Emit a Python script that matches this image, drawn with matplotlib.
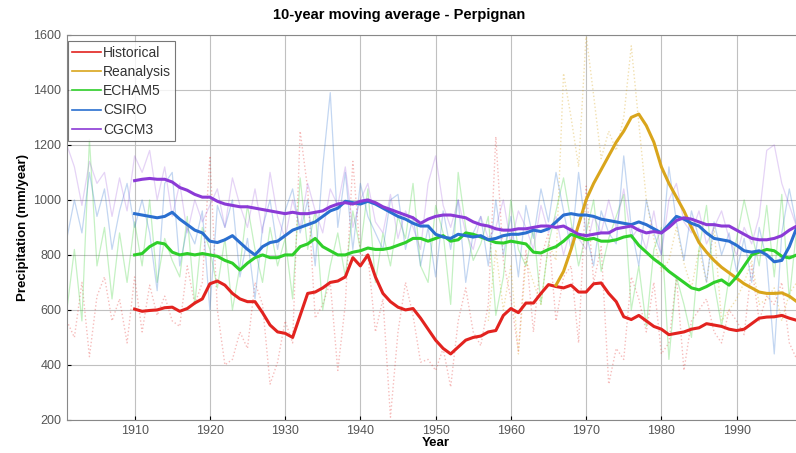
import numpy as np
import matplotlib.pyplot as plt

plt.rcParams['font.family'] = ['Liberation Sans', 'DejaVu Sans']

# annual values 1901-1998 (faint lines)
years = np.arange(1901, 1999)
hist_annual = [560, 500, 700, 430, 650, 720, 560, 640, 480, 720,
               520, 690, 580, 650, 560, 540, 760, 620, 700, 1160,
               600, 400, 420, 520, 460, 700, 620, 330, 410, 560,
               480, 1250, 1040, 570, 620, 700, 380, 620, 1140, 800,
               800, 520, 640, 210, 520, 700, 580, 410, 420, 380,
               460, 320, 560, 680, 520, 470, 620, 1230, 780, 640,
               450, 820, 520, 790, 880, 560, 720, 760, 480, 1050,
               700, 830, 330, 460, 420, 720, 640, 520, 700, 440,
               480, 720, 380, 560, 600, 640, 520, 480, 600, 560,
               510, 760, 560, 650, 620, 700, 480, 420]
echam_annual = [600, 820, 560, 1220, 760, 900, 640, 880, 700, 920,
                760, 1000, 700, 860, 780, 720, 940, 620, 900, 820,
                680, 860, 600, 760, 980, 820, 700, 900, 760, 860,
                640, 1080, 820, 960, 600, 760, 880, 720, 960, 820,
                1040, 700, 880, 760, 940, 860, 1060, 760, 700, 980,
                880, 620, 1100, 900, 780, 840, 940, 580, 720, 1000,
                820, 760, 900, 620, 840, 960, 1080, 920, 760, 880,
                1000, 740, 860, 940, 1020, 600, 760, 540, 820, 900,
                420, 720, 620, 500, 820, 980, 700, 540, 720, 860,
                1000, 880, 760, 980, 720, 1020, 640, 900]
csiro_annual = [860, 1000, 880, 1100, 940, 1040, 820, 960, 1060, 900,
                1000, 880, 670, 1060, 1100, 760, 900, 840, 960, 600,
                980, 900, 1000, 720, 860, 640, 900, 1000, 820, 960,
                1040, 880, 1000, 760, 1120, 1390, 900, 1100, 820, 1060,
                940, 880, 820, 1000, 1020, 820, 940, 760, 900, 720,
                960, 820, 1000, 700, 880, 940, 760, 1000, 800, 940,
                720, 980, 860, 1040, 920, 1100, 960, 820, 1100, 880,
                760, 960, 880, 840, 1160, 900, 760, 1000, 880, 800,
                1120, 920, 780, 960, 860, 700, 920, 800, 880, 740,
                860, 700, 900, 780, 440, 880, 1040, 900]
cgcm_annual = [1200, 1120, 980, 1140, 1060, 1100, 940, 1080, 960, 1160,
               1100, 1180, 1000, 1120, 940, 1060, 880, 1000, 920, 980,
               1040, 900, 1080, 980, 900, 1040, 880, 1100, 940, 860,
               1000, 900, 1060, 960, 880, 1040, 980, 1120, 900, 1000,
               1060, 920, 880, 1020, 860, 960, 900, 820, 1060, 1160,
               980, 900, 1000, 880, 820, 940, 860, 900, 1000, 840,
               960, 900, 820, 980, 880, 940, 800, 900, 860, 820,
               940, 880, 1000, 900, 1040, 860, 900, 820, 960, 800,
               1000, 1060, 920, 880, 960, 840, 900, 960, 860, 800,
               900, 840, 940, 1180, 1200, 1060, 980, 900]
# reanalysis annual 1957-1998
rea_years = np.arange(1957, 1999)
rea_annual = [560, 820, 600, 760, 440, 780, 700, 620, 840, 780,
              1460, 1300, 1120, 1600, 1380, 1150, 1250, 1180, 1300, 1560,
              1280, 1000, 860, 740, 780, 900, 770, 680, 820, 700,
              900, 560, 600, 640, 700, 780, 620, 640, 680, 560, 660, 700]

# 10-year moving averages 1910-1998 (thick lines)
ma_years = np.arange(1910, 1999)
hist_ma = [603, 595, 598, 600, 608, 610, 595, 605, 625, 640,
           695, 705, 690, 660, 640, 630, 630, 590, 545, 520,
           515, 500, 580, 660, 665, 680, 700, 705, 720, 790,
           760, 800, 720, 660, 630, 610, 600, 605, 570, 530,
           490, 460, 440, 465, 490, 500, 505, 520, 525, 580,
           605, 590, 625, 625, 660, 692, 685, 680, 690, 665,
           665, 695, 698, 660, 630, 575, 565, 580, 560, 540,
           530, 510, 515, 520, 530, 535, 550, 545, 540, 530,
           525, 530, 550, 570, 574, 575, 580, 570, 562]
echam_ma = [800, 805, 830, 845, 840, 810, 800, 805, 800, 805,
            800, 795, 780, 770, 745, 770, 790, 800, 790, 790,
            800, 800, 830, 840, 860, 830, 815, 800, 800, 810,
            815, 825, 820, 820, 825, 835, 845, 860, 860, 850,
            860, 870, 850, 855, 880, 875, 865, 855, 845, 843,
            850, 845, 840, 810, 807, 820, 830, 850, 875, 865,
            855, 860, 850, 850, 855, 865, 870, 835, 810, 785,
            765, 740, 720, 700, 680, 673, 685, 700, 709, 690,
            720, 760, 800, 810, 820, 815, 795, 789, 800]
csiro_ma = [950, 945, 940, 935, 940, 955, 930, 910, 890, 880,
            850, 845, 855, 870, 845, 820, 800, 830, 845, 850,
            870, 890, 900, 910, 920, 940, 960, 970, 995, 990,
            985, 995, 985, 970, 955, 940, 930, 915, 905, 905,
            875, 865, 860, 875, 870, 865, 870, 855, 860, 870,
            875, 875, 880, 890, 885, 895, 920, 945, 950, 945,
            945, 940, 930, 925, 920, 915, 910, 920, 910, 895,
            880, 910, 940, 930, 915, 905, 880, 860, 855, 850,
            835, 815, 810, 815, 800, 775, 780, 830, 900]
cgcm_ma = [1070, 1075, 1078, 1075, 1075, 1065, 1045, 1035, 1020, 1010,
           1010, 995, 985, 980, 975, 975, 970, 965, 960, 955,
           950, 955, 950, 950, 955, 960, 975, 985, 990, 985,
           995, 1000, 990, 975, 965, 955, 945, 935, 915, 930,
           940, 945, 945, 940, 935, 920, 910, 905, 895, 890,
           890, 895, 895, 900, 905, 905, 900, 905, 890, 875,
           870, 875, 880, 880, 895, 900, 905, 890, 880, 885,
           880, 900, 925, 935, 930, 920, 910, 910, 905, 905,
           890, 875, 860, 855, 855, 860, 870, 890, 905]
rea_ma_years = np.arange(1966, 1999)
rea_ma = [690, 740, 820, 910, 1000, 1060, 1110, 1160, 1210, 1250,
          1300, 1312, 1270, 1210, 1120, 1060, 1010, 960, 900, 845,
          810, 780, 755, 735, 715, 695, 680, 665, 660, 660,
          662, 650, 630]

c_hist = '#e2231f'
c_rea = '#d9a51c'
c_echam = '#2fcf2a'
c_csiro = '#2a6fd0'
c_cgcm = '#8b3ad6'

fig = plt.figure(figsize=(7.96, 4.53), dpi=100)
ax = fig.add_axes([0.084, 0.073, 0.9265, 0.85])

# faint annual values
ax.plot(years, hist_annual, ':', color=c_hist, lw=1, alpha=0.3)
ax.plot(rea_years, rea_annual, ':', color=c_rea, lw=1, alpha=0.35)
ax.plot(years, echam_annual, color=c_echam, lw=0.9, alpha=0.28)
ax.plot(years, csiro_annual, color=c_csiro, lw=0.9, alpha=0.28)
ax.plot(years, cgcm_annual, color=c_cgcm, lw=0.9, alpha=0.22)

# moving averages
ax.plot(ma_years, hist_ma, color=c_hist, lw=2.2, label='Historical')
ax.plot(rea_ma_years, rea_ma, color=c_rea, lw=2.2, label='Reanalysis')
ax.plot(ma_years, echam_ma, color=c_echam, lw=2.2, label='ECHAM5')
ax.plot(ma_years, csiro_ma, color=c_csiro, lw=2.2, label='CSIRO')
ax.plot(ma_years, cgcm_ma, color=c_cgcm, lw=2.2, label='CGCM3')

ax.set_xlim(1901, 1999)
ax.set_ylim(200, 1600)
ax.set_xticks(np.arange(1910, 2000, 10))
ax.set_yticks(np.arange(200, 1601, 200))
ax.tick_params(labelsize=9, labelcolor='#555555', length=3, direction='in', pad=4)
ax.grid(color='#c0c0c0', lw=0.8)
for s in ax.spines.values():
    s.set_color('#888888')

fig.text(0.502, 0.967, '10-year moving average - Perpignan', ha='center', va='center',
         fontsize=10.5, fontweight='bold')
ax.set_xlabel('Year', fontsize=9.5, fontweight='bold', labelpad=0)
ax.set_ylabel('Precipitation (mm/year)', fontsize=9.5, fontweight='bold', labelpad=3)

leg = ax.legend(loc='upper left', bbox_to_anchor=(0.001, 0.983), fontsize=10,
                frameon=True, fancybox=False, borderaxespad=0, handlelength=2.1,
                labelspacing=0.38, handletextpad=0.15, borderpad=0.3)
leg.get_frame().set_edgecolor('#555555')
leg.get_frame().set_linewidth(0.8)
for line in leg.get_lines():
    line.set_linewidth(1.2)
for t in leg.get_texts():
    t.set_color('#333333')

fig.savefig('out.png', dpi=100)
